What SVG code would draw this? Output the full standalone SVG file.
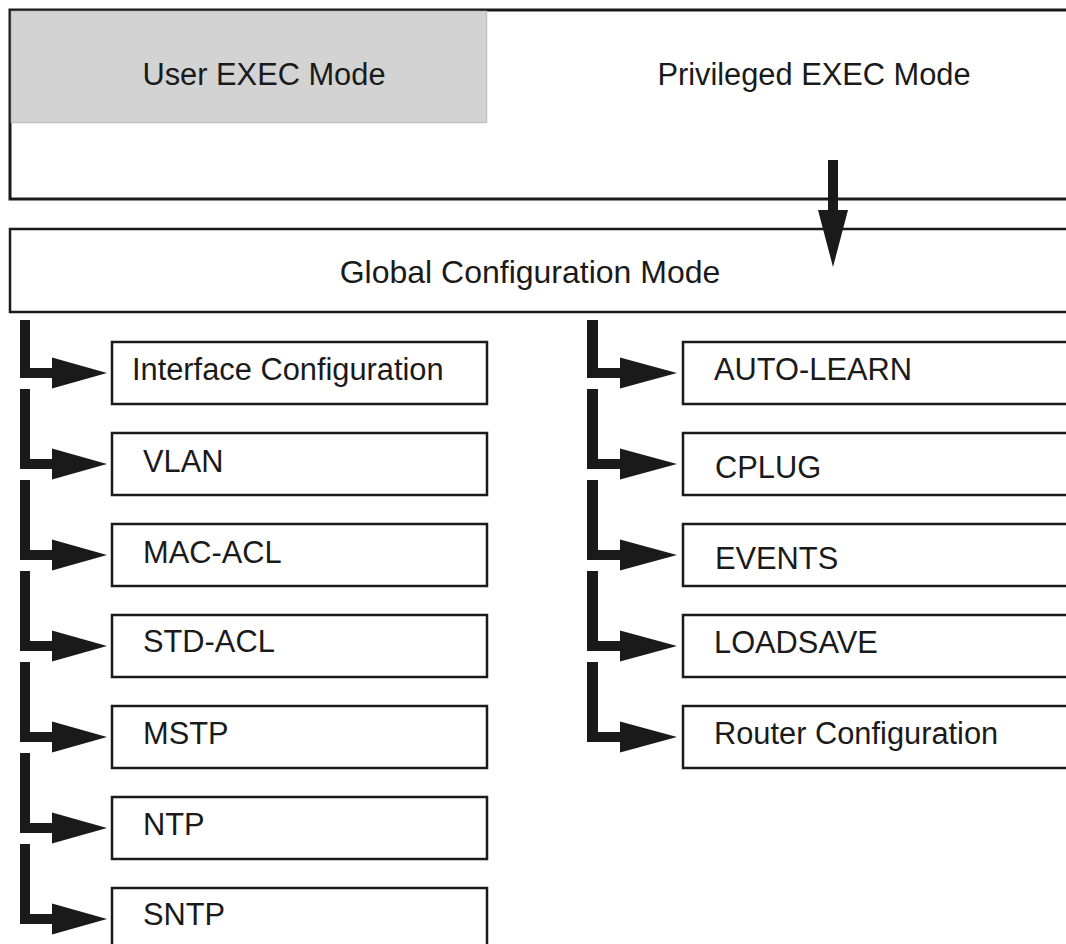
<svg xmlns="http://www.w3.org/2000/svg" width="1066" height="944" viewBox="0 0 1066 944">
<style>
.t{font-family:"Liberation Sans",Arial,sans-serif;font-size:30.8px;fill:#1a1a1a}
.g{font-size:32px}
.box{fill:#fff;stroke:#1a1a1a;stroke-width:2.5}
.arr{fill:#1a1a1a}
</style>
<rect x="0" y="0" width="1066" height="944" fill="#fff"/>
<g id="top-box">
<rect x="10" y="10" width="1070" height="189" fill="#fff" stroke="#1a1a1a" stroke-width="3"/>
</g>
<g id="user-exec">
<rect x="11.5" y="11.5" width="475" height="111" fill="#d3d3d3" stroke="#c2c2c2" stroke-width="1.5"/>
<text class="t" x="264" y="85" text-anchor="middle">User EXEC Mode</text>
</g>
<g id="privileged-exec">
<text class="t" x="814" y="85" text-anchor="middle">Privileged EXEC Mode</text>
</g>
<g id="global-config">
<rect class="box" x="10" y="229" width="1070" height="83"/>
<text class="t g" x="530" y="283" text-anchor="middle">Global Configuration Mode</text>
</g>
<g id="interface-config"><rect class="box" x="112" y="342" width="375" height="62"/><text class="t" x="132" y="380">Interface Configuration</text></g>
<g id="vlan"><rect class="box" x="112" y="433" width="375" height="62"/><text class="t" x="143" y="472">VLAN</text></g>
<g id="mac-acl"><rect class="box" x="112" y="524" width="375" height="62"/><text class="t" x="143" y="563">MAC-ACL</text></g>
<g id="std-acl"><rect class="box" x="112" y="615" width="375" height="62"/><text class="t" x="143" y="652">STD-ACL</text></g>
<g id="mstp"><rect class="box" x="112" y="706" width="375" height="62"/><text class="t" x="143" y="744">MSTP</text></g>
<g id="ntp"><rect class="box" x="112" y="797" width="375" height="62"/><text class="t" x="143" y="835">NTP</text></g>
<g id="sntp"><rect class="box" x="112" y="888" width="375" height="62"/><text class="t" x="143" y="925">SNTP</text></g>
<g id="auto-learn"><rect class="box" x="683" y="342" width="400" height="62"/><text class="t" x="714" y="380">AUTO-LEARN</text></g>
<g id="cplug"><rect class="box" x="683" y="433" width="400" height="62"/><text class="t" x="715" y="478">CPLUG</text></g>
<g id="events"><rect class="box" x="683" y="524" width="400" height="62"/><text class="t" x="715" y="569">EVENTS</text></g>
<g id="loadsave"><rect class="box" x="683" y="615" width="400" height="62"/><text class="t" x="714" y="653">LOADSAVE</text></g>
<g id="router-config"><rect class="box" x="683" y="706" width="400" height="62"/><text class="t" x="714" y="744">Router Configuration</text></g>
<g id="connectors">
<path class="arr" d="M828,160 H838 V210 H848 L833,267 L818,210 H828 Z"/>
<path class="arr" d="M20,320 H30 V368 H52 V357.5 L107,373 L52,388.5 V378 H20 Z"/>
<path class="arr" d="M20,389 H30 V459 H52 V448.5 L107,464 L52,479.5 V469 H20 Z"/>
<path class="arr" d="M20,480 H30 V550 H52 V539.5 L107,555 L52,570.5 V560 H20 Z"/>
<path class="arr" d="M20,571 H30 V641 H52 V630.5 L107,646 L52,661.5 V651 H20 Z"/>
<path class="arr" d="M20,662 H30 V732 H52 V721.5 L107,737 L52,752.5 V742 H20 Z"/>
<path class="arr" d="M20,753 H30 V823 H52 V812.5 L107,828 L52,843.5 V833 H20 Z"/>
<path class="arr" d="M20,844 H30 V914 H52 V903.5 L107,919 L52,934.5 V924 H20 Z"/>
<path class="arr" d="M587,320 H598 V368 H620 V357.5 L677,373 L620,388.5 V378 H587 Z"/>
<path class="arr" d="M587,389 H598 V459 H620 V448.5 L677,464 L620,479.5 V469 H587 Z"/>
<path class="arr" d="M587,480 H598 V550 H620 V539.5 L677,555 L620,570.5 V560 H587 Z"/>
<path class="arr" d="M587,571 H598 V641 H620 V630.5 L677,646 L620,661.5 V651 H587 Z"/>
<path class="arr" d="M587,662 H598 V732 H620 V721.5 L677,737 L620,752.5 V742 H587 Z"/>
</g>
</svg>
